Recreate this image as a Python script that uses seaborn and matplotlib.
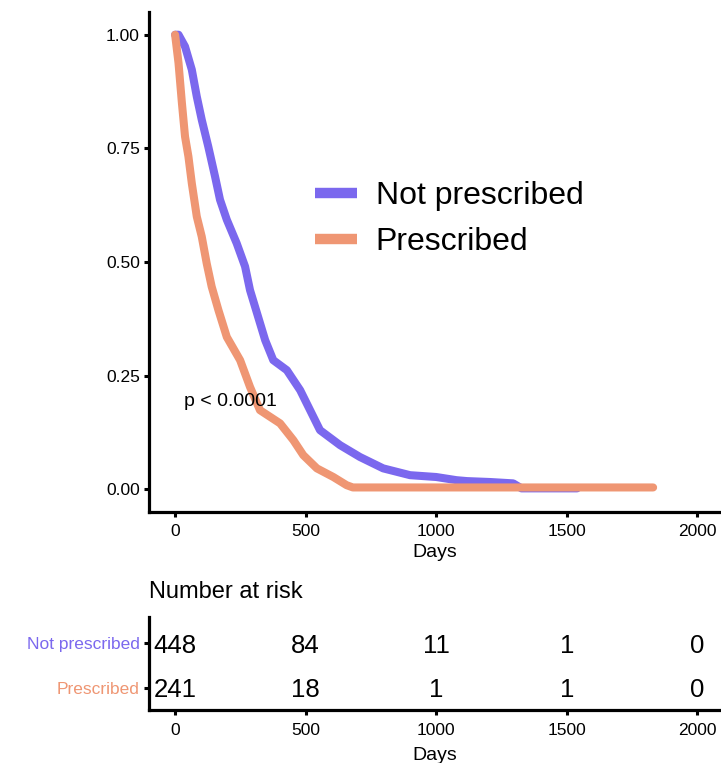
import numpy as np
import pandas as pd
import seaborn as sns
import matplotlib
matplotlib.use("Agg")
import matplotlib.pyplot as plt

# Survival curves (days, survival probability)
not_days = [0, 13, 38, 64, 83, 102, 127, 153, 172, 198, 236, 268, 287, 306, 345,
            376, 428, 479, 555, 632, 708, 797, 900, 1000, 1078, 1118, 1206, 1295,
            1327, 1540]
not_surv = [1.0, 1.0, 0.974, 0.923, 0.864, 0.813, 0.754, 0.688, 0.637, 0.593, 0.541,
            0.490, 0.438, 0.402, 0.328, 0.284, 0.262, 0.218, 0.130, 0.097, 0.071,
            0.046, 0.031, 0.027, 0.020, 0.018, 0.016, 0.013, 0.002, 0.002]

pres_days = [0, 13, 26, 38, 51, 64, 83, 102, 121, 140, 166, 198, 249, 287, 325,
             402, 453, 491, 543, 606, 657, 681, 1831]
pres_surv = [1.0, 0.938, 0.850, 0.776, 0.732, 0.673, 0.600, 0.556, 0.497, 0.446,
             0.394, 0.335, 0.284, 0.225, 0.174, 0.145, 0.108, 0.075, 0.046, 0.027,
             0.009, 0.004, 0.004]

groups = ["Not prescribed", "Prescribed"]
colors = ["#7B68EE", "#EF9673"]

# number at risk table
risk_times = [0, 500, 1000, 1500, 2000]
risk_not = [448, 84, 11, 1, 0]
risk_pres = [241, 18, 1, 1, 0]

df = pd.concat([
    pd.DataFrame({"days": not_days, "surv": not_surv, "group": groups[0]}),
    pd.DataFrame({"days": pres_days, "surv": pres_surv, "group": groups[1]}),
])

sns.set_theme(style="ticks")
plt.rcParams["font.family"] = ["Liberation Sans", "DejaVu Sans"]
plt.rcParams["text.color"] = "black"
plt.rcParams["axes.labelcolor"] = "black"

fig = plt.figure(figsize=(7.21, 7.63), dpi=100)
W, H = 721, 763
ax = fig.add_axes([149 / W, (H - 512) / H, (W - 149) / W, 500 / H])
ax_risk = fig.add_axes([149 / W, (H - 710) / H, (W - 149) / W, 93 / H])

sns.lineplot(data=df, x="days", y="surv", hue="group", hue_order=groups,
             palette=colors, linewidth=5.8, sort=False, estimator=None, ax=ax)

ax.set_xlim(-100, 2091)
ax.set_ylim(-0.05, 1.05)
ax.set_xticks([0, 500, 1000, 1500, 2000])
ax.set_yticks([0, 0.25, 0.5, 0.75, 1.0])
ax.set_yticklabels(["0.00", "0.25", "0.50", "0.75", "1.00"])
ax.set_xlabel("Days", fontsize=14, labelpad=4)
ax.set_ylabel("")
ax.text(34, 0.194, "p < 0.0001", fontsize=14, ha="left", va="center")

handles, labels = ax.get_legend_handles_labels()
leg = ax.legend(handles, labels, loc="center left",
                bbox_to_anchor=((315 - 149) / 572, (512 - 219) / 500),
                frameon=False, fontsize=23, handlelength=1.3,
                handletextpad=0.6, labelspacing=0.5, borderpad=0, borderaxespad=0)
for line in leg.get_lines():
    line.set_linewidth(7.5)
    line.set_solid_capstyle("butt")

# risk table
for i, counts in enumerate([risk_not, risk_pres]):
    for t, n in zip(risk_times, counts):
        ax_risk.text(t, i, str(n), fontsize=18.5, ha="center", va="center_baseline")
ax_risk.set_xlim(-100, 2091)
ax_risk.set_ylim(1.49, -0.58)
ax_risk.set_xticks(risk_times)
ax_risk.set_yticks([0, 1])
ax_risk.set_yticklabels(groups, fontsize=12.5)
ax_risk.set_xlabel("Days", fontsize=14, labelpad=6)
ax_risk.text(0, 1 + (617 - 592) / 93, "Number at risk", fontsize=17,
             ha="left", va="center", transform=ax_risk.transAxes)

for a in [ax, ax_risk]:
    sns.despine(ax=a)
    for s in ["left", "bottom"]:
        a.spines[s].set_linewidth(2.3)
        a.spines[s].set_color("black")
    a.tick_params(width=2.2, length=3.5, colors="black", labelsize=12.5, pad=3)
ax.tick_params(axis="x", pad=5)
ax_risk.tick_params(axis="x", pad=6)
ax_risk.tick_params(axis="y", labelsize=12.5)
for lab, c in zip(ax_risk.get_yticklabels(), colors):
    lab.set_color(c)

fig.savefig("out.png", dpi=100)
